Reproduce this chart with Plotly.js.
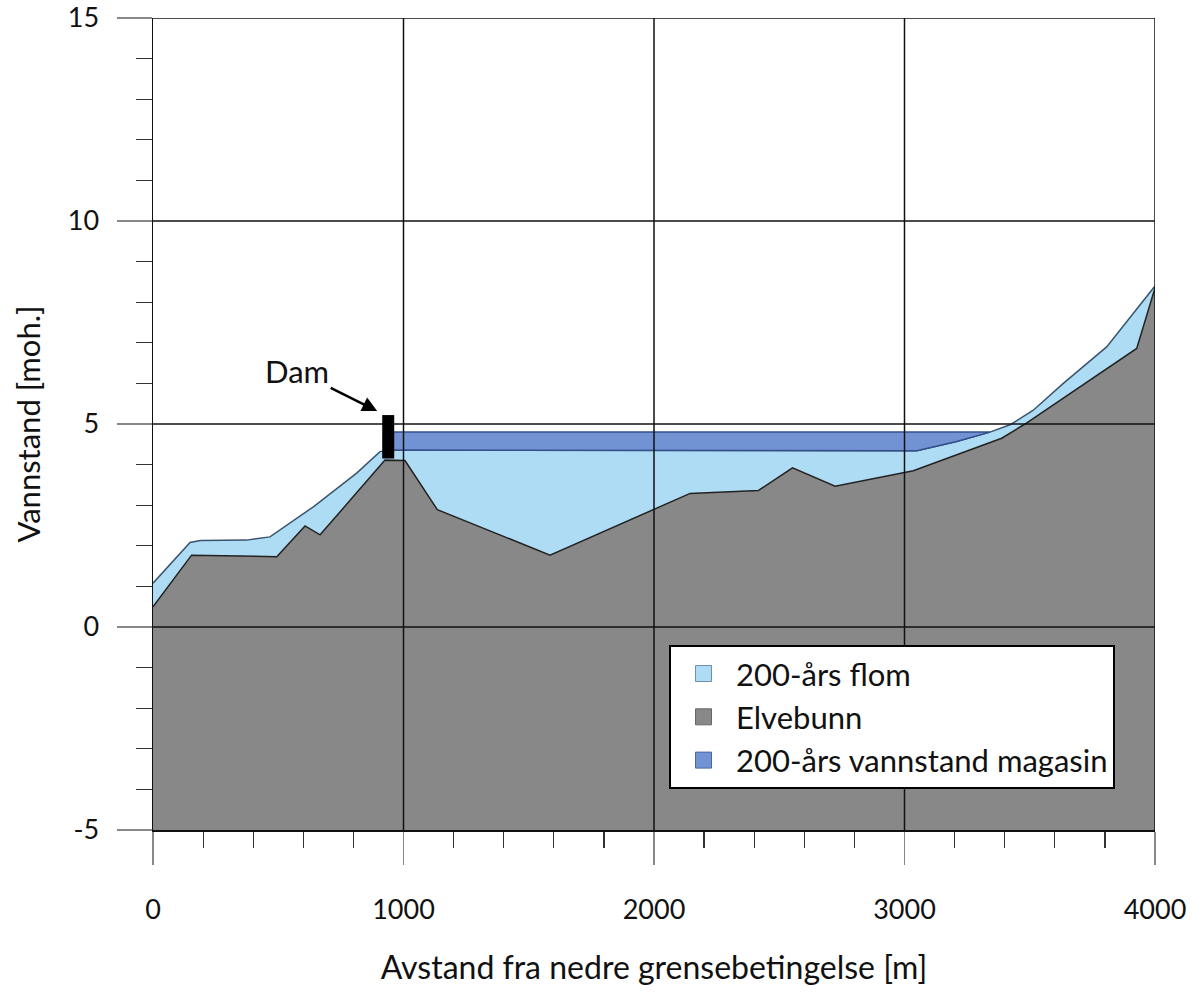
<!DOCTYPE html>
<html><head><meta charset="utf-8">
<script src="https://cdn.plot.ly/plotly-3.0.1.min.js"></script>
<style>body{margin:0;background:#fff}</style></head>
<body><div id="chart" style="width:1194px;height:996px"></div>
<script>
// Riverbed (Elvebunn)
const bedX = [0, 154, 494, 607, 667, 926, 1006, 1135, 1585, 2004, 2144, 2416, 2553, 2723, 3035, 3388, 3481, 3927, 4000];
const bedY = [0.50, 1.77, 1.73, 2.49, 2.27, 4.11, 4.10, 2.89, 1.77, 2.92, 3.29, 3.36, 3.92, 3.47, 3.85, 4.65, 5.00, 6.86, 8.35];
// 200-year flood surface
const floodX = [0, 148, 188, 374, 467, 600, 640, 813, 906, 958, 3049, 3208, 3341, 3421, 3514, 3634, 3807, 4000];
const floodY = [1.08, 2.08, 2.13, 2.14, 2.22, 2.80, 2.96, 3.79, 4.32, 4.36, 4.34, 4.57, 4.80, 4.98, 5.34, 6.00, 6.90, 8.40];
// 200-year reservoir level
const reservoirX = [958, 3049, 3208, 3341];
const reservoirTop = [4.80, 4.80, 4.80, 4.80];
const reservoirBottom = [4.36, 4.34, 4.57, 4.80];
// Dam
const damX = [915, 963];
const damY = [4.15, 5.22];
// Axes
const xTickVals = [0, 1000, 2000, 3000, 4000];
const xTickText = ['0', '1000', '2000', '3000', '4000'];
const yTickVals = [-5, 0, 5, 10, 15];
const yTickText = ['-5', '0', '5', '10', '15'];
const gridX = [1000, 2000, 3000, 4000];
const gridY = [0, 5, 10, 15];
const xRange = [0, 4000];
const yRange = [-5, 15];
const legendNames = ['200-års flom', 'Elvebunn', '200-års vannstand magasin'];

const cFlood = '#aedcf5', cBed = '#888888', cRes = '#7193d3';
const FONT = 'Lato, "Open Sans", sans-serif';

const traces = [
  {x: xRange, y: [yRange[0], yRange[0]], mode: 'lines', line: {width: 0}, showlegend: false, hoverinfo: 'skip'},
  {x: bedX, y: bedY, mode: 'lines', fill: 'tonexty', fillcolor: cBed, line: {color: '#222', width: 1.5}, showlegend: false},
  {x: floodX, y: floodY, mode: 'lines', fill: 'tonexty', fillcolor: cFlood, line: {color: '#3a546e', width: 1.5}, showlegend: false},
  {x: reservoirX.concat(reservoirX.slice().reverse()), y: reservoirTop.concat(reservoirBottom.slice().reverse()),
   mode: 'lines', fill: 'toself', fillcolor: cRes, line: {color: '#34508c', width: 1.5}, showlegend: false},
  {x: [null], y: [null], mode: 'markers', name: legendNames[0], marker: {symbol: 'square', size: 26, color: cFlood, line: {color: '#6b8fae', width: 1}}},
  {x: [null], y: [null], mode: 'markers', name: legendNames[1], marker: {symbol: 'square', size: 26, color: cBed, line: {color: '#666', width: 1}}},
  {x: [null], y: [null], mode: 'markers', name: legendNames[2], marker: {symbol: 'square', size: 26, color: cRes, line: {color: '#4a66a0', width: 1}}}
];

const shapes = [];
gridX.forEach(v => shapes.push({type: 'line', xref: 'x', yref: 'y', x0: v, x1: v, y0: yRange[0], y1: yRange[1], line: {color: '#111', width: 1.5}, layer: 'above'}));
gridY.forEach(v => shapes.push({type: 'line', xref: 'x', yref: 'y', x0: xRange[0], x1: xRange[1], y0: v, y1: v, line: {color: '#111', width: 1.5}, layer: 'above'}));
shapes.push({type: 'rect', xref: 'x', yref: 'y', x0: damX[0], x1: damX[1], y0: damY[0], y1: damY[1], fillcolor: '#000', line: {width: 0}, layer: 'above'});

const layout = {
  width: 1194, height: 996,
  margin: {l: 153, r: 39, t: 18, b: 166},
  paper_bgcolor: '#fff', plot_bgcolor: '#fff',
  font: {family: FONT, size: 27, color: '#111'},
  showlegend: true,
  legend: {x: 0.515, y: 0.228, xanchor: 'left', yanchor: 'top', bgcolor: '#fff', bordercolor: '#000', borderwidth: 2,
           font: {size: 31, family: FONT, color: '#111'}, itemsizing: 'trace', traceorder: 'normal', itemwidth: 55, tracegroupgap: 0},
  xaxis: {range: xRange, tickvals: xTickVals, ticktext: xTickText, ticks: 'outside', ticklen: 33, tickwidth: 1.5, tickcolor: '#888',
          showgrid: false, zeroline: false, showline: true, linecolor: '#111', linewidth: 1.5, ticklabelstandoff: 22,
          minor: {dtick: 200, ticks: 'outside', ticklen: 16, tickcolor: '#333', tickwidth: 1.2, showgrid: false},
          title: {text: 'Avstand fra nedre grensebetingelse [m]', font: {size: 32}, standoff: 32}, automargin: false, fixedrange: true},
  yaxis: {range: yRange, tickvals: yTickVals, ticktext: yTickText, ticks: 'outside', ticklen: 35, tickwidth: 1.5, tickcolor: '#888',
          showgrid: false, zeroline: false, showline: true, linecolor: '#111', linewidth: 1.5, ticklabelstandoff: 12,
          minor: {dtick: 1, ticks: 'outside', ticklen: 16, tickcolor: '#333', tickwidth: 1.2, showgrid: false},
          title: {text: 'Vannstand [moh.]', font: {size: 31}, standoff: 18}, automargin: false, fixedrange: true},
  shapes: shapes,
  annotations: [{x: damX[0] - 20, y: damY[1] + 0.1, xref: 'x', yref: 'y', text: 'Dam', showarrow: true, arrowhead: 2, arrowsize: 1.2,
                 arrowwidth: 2.5, arrowcolor: '#000', ax: -80, ay: -40, font: {size: 31, color: '#111'}}]
};

Plotly.newPlot('chart', traces, layout, {displayModeBar: false, staticPlot: true});
</script>
</body></html>
